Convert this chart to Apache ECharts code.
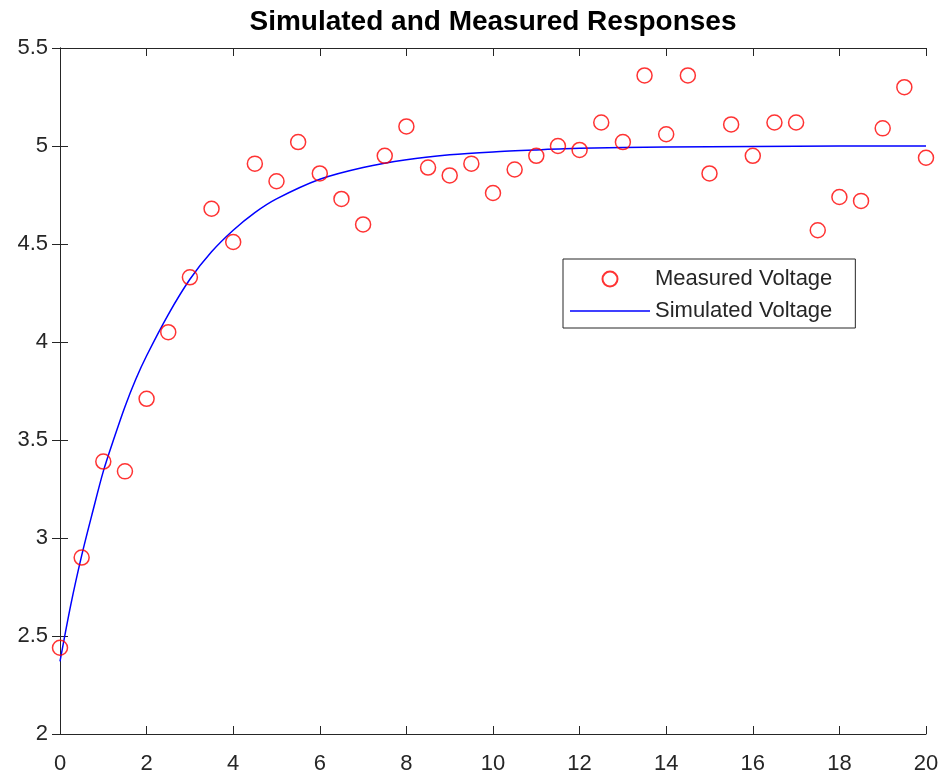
<!DOCTYPE html>
<html>
<head>
<meta charset="utf-8">
<script src="https://cdn.jsdelivr.net/npm/echarts@6/dist/echarts.min.js"></script>
<style>
html,body{margin:0;padding:0;background:#fff;}
#chart{width:943px;height:776px;}
</style>
</head>
<body>
<div id="chart"></div>
<script>
// Measured data (red circles)
const measuredTime = [0,0.5,1,1.5,2,2.5,3,3.5,4,4.5,5,5.5,6,6.5,7,7.5,8,8.5,9,9.5,10,10.5,11,11.5,12,12.5,13,13.5,14,14.5,15,15.5,16,16.5,17,17.5,18,18.5,19,19.5,20];
const measuredVoltage = [2.44,2.90,3.39,3.34,3.71,4.05,4.33,4.68,4.51,4.91,4.82,5.02,4.86,4.73,4.60,4.95,5.10,4.89,4.85,4.91,4.76,4.88,4.95,5.00,4.98,5.12,5.02,5.36,5.06,5.36,4.86,5.11,4.95,5.12,5.12,4.57,4.74,4.72,5.09,5.30,4.94];
// Simulated response (blue line)
const simulatedTime = [0,0.25,0.5,0.75,1,1.25,1.5,1.75,2,2.5,3,3.5,4,4.5,5,6,7,8,9,10,11,12,14,16,18,20];
const simulatedVoltage = [2.37,2.66,2.91,3.13,3.34,3.51,3.67,3.81,3.93,4.14,4.32,4.46,4.57,4.66,4.73,4.83,4.89,4.93,4.955,4.97,4.98,4.988,4.995,4.998,5.0,5.0];
// Axis ticks
const xTicks = {min: 0, max: 20, interval: 2};
const yTicks = {min: 2, max: 5.5, interval: 0.5};

const FONT = "'Liberation Sans', Arial, Helvetica, sans-serif";
const AXIS_COLOR = '#262626';

const chart = echarts.init(document.getElementById('chart'), null, {renderer: 'canvas'});

function pairs(xs, ys) { return xs.map((x, i) => [x, ys[i]]); }

const axisCommon = {
  type: 'value',
  axisLine: {show: true, lineStyle: {color: AXIS_COLOR, width: 1}},
  axisTick: {show: true, inside: true, length: 8, lineStyle: {color: AXIS_COLOR, width: 1}},
  splitLine: {show: false}
};

const option = {
  backgroundColor: '#ffffff',
  animation: false,
  title: {
    text: 'Simulated and Measured Responses',
    left: 493,
    top: 8,
    padding: 0,
    textAlign: 'center',
    textStyle: {fontFamily: FONT, fontSize: 28, fontWeight: 'bold', color: '#000000'}
  },
  grid: {left: 60, right: 17, top: 48, bottom: 42, containLabel: false},
  legend: {
    orient: 'vertical',
    left: 563,
    top: 259,
    padding: [9, 23, 6, 7],
    itemGap: 10,
    itemWidth: 80,
    itemHeight: 15,
    backgroundColor: '#ffffff',
    borderColor: AXIS_COLOR,
    borderWidth: 1,
    textStyle: {fontFamily: FONT, fontSize: 22, color: AXIS_COLOR},
    data: [
      {name: 'Measured Voltage'},
      {name: 'Simulated Voltage', icon: 'path://M0,0 H80 V1.5 H0 Z'}
    ]
  },
  xAxis: [
    Object.assign({}, axisCommon, {
      position: 'bottom',
      min: xTicks.min, max: xTicks.max, interval: xTicks.interval,
      axisLabel: {show: true, fontFamily: FONT, fontSize: 22, color: AXIS_COLOR, margin: 19}
    }),
    Object.assign({}, axisCommon, {
      position: 'top',
      min: xTicks.min, max: xTicks.max, interval: xTicks.interval,
      axisLabel: {show: false}
    })
  ],
  yAxis: [
    Object.assign({}, axisCommon, {
      position: 'left',
      min: yTicks.min, max: yTicks.max, interval: yTicks.interval,
      axisLabel: {show: true, fontFamily: FONT, fontSize: 22, color: AXIS_COLOR, margin: 12}
    }),
    Object.assign({}, axisCommon, {
      position: 'right',
      min: yTicks.min, max: yTicks.max, interval: yTicks.interval,
      axisLabel: {show: false}
    })
  ],
  series: [
    {
      name: 'Measured Voltage',
      type: 'scatter',
      xAxisIndex: 0,
      yAxisIndex: 0,
      clip: false,
      symbol: 'circle',
      symbolSize: 15,
      itemStyle: {color: 'rgba(255,0,0,0)', borderColor: '#ff0000', borderWidth: 1.5},
      data: pairs(measuredTime, measuredVoltage),
      z: 3
    },
    {
      name: 'Simulated Voltage',
      type: 'line',
      xAxisIndex: 0,
      yAxisIndex: 0,
      symbol: 'none',
      smooth: 0.3,
      lineStyle: {color: '#0000ff', width: 1.5},
      itemStyle: {color: '#0000ff'},
      data: pairs(simulatedTime, simulatedVoltage),
      z: 2
    }
  ]
};

chart.setOption(option);
</script>
</body>
</html>
